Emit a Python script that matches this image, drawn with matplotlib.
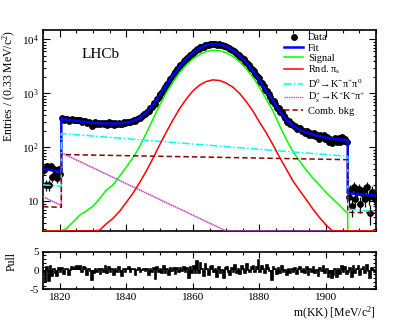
import numpy as np
import matplotlib
matplotlib.use("Agg")
import matplotlib.pyplot as plt
from matplotlib.lines import Line2D
from matplotlib.ticker import FixedLocator, FixedFormatter, MultipleLocator, LogLocator, NullFormatter

plt.rcParams['font.family'] = ['Liberation Serif', 'DejaVu Serif']
plt.rcParams['mathtext.fontset'] = 'custom'
plt.rcParams['mathtext.rm'] = 'Liberation Serif'
plt.rcParams['mathtext.it'] = 'Liberation Serif:italic'
plt.rcParams['mathtext.bf'] = 'Liberation Serif:bold'

# ---- data (0.5 MeV bins from 1815 to 1915) ----
lo_counts = [38, 20, 45, 20, 45, 28, 39, 31, 27, 39, 32]
mid_counts = [347, 320, 336, 329, 305, 322, 331, 319, 327, 327,
              327, 320, 290, 313, 304, 278, 299, 285, 244, 271,
              291, 276, 285, 269, 285, 270, 284, 263, 289, 270,
              279, 259, 282, 268, 284, 273, 265, 289, 278, 296,
              299, 290, 309, 316, 308, 335, 346, 348, 381, 407,
              419, 461, 477, 541, 568, 649, 639, 797, 858, 975,
              1050, 1214, 1318, 1513, 1644, 1870, 2013, 2293, 2470, 2787,
              2983, 3330, 3550, 3930, 4164, 4550, 4708, 5235, 5456, 5914,
              6093, 6659, 6664, 7169, 7313, 7379, 7859, 7907, 7922, 8202,
              8319, 8205, 8276, 8055, 8211, 7957, 7888, 7523, 7522, 7345,
              6967, 6632, 6506, 6136, 5957, 5485, 5246, 4817, 4624, 4250,
              3870, 3706, 3332, 3012, 2817, 2575, 2251, 2076, 1954, 1648,
              1532, 1355, 1176, 1129, 989, 864, 707, 734, 648, 546,
              526, 447, 445, 377, 354, 299, 311, 270, 268, 243,
              249, 216, 225, 226, 197, 203, 181, 197, 166, 185,
              170, 182, 159, 167, 144, 168, 154, 171, 142, 156,
              127, 141, 122, 131, 147, 123, 146, 128, 152, 132,
              145, 123]
hi_counts = [12, 16, 8, 18, 11, 15, 17, 9, 14, 16, 11, 18, 12, 6, 15, 13, 11]

lo_pulls = [-0.3, -3.0, 1.0, -2.9, 1.3, -1.5, 0.4, -0.8, -1.4, 0.6, -0.5]
mid_pulls = [0.7, -0.9, 0.5, 0.3, -1.2, 0.2, 0.9, 0.4, 1.0, 1.2,
             1.3, 1.1, -0.5, 1.0, 0.6, -1.1, 0.5, -0.2, -2.5, -0.8,
             0.5, -0.3, 0.3, -1.0, 0.4, -0.4, 1.2, -0.8, 0.8, -0.3,
             0.3, -1.3, 0.4, -0.4, 0.9, -0.3, -1.5, 0.4, -0.4, 0.4,
             1.0, -0.5, 0.3, 0.3, -1.2, 0.2, 0.6, -0.5, 0.2, 0.4,
             -0.2, 0.4, -1.1, 0.4, -0.5, 0.6, -2.3, 0.8, -0.4, 0.5,
             -0.6, 1.2, -0.6, 0.3, -1.3, 0.7, -0.2, 0.7, -0.9, 0.7,
             -0.5, 0.7, -0.2, 1.0, -0.4, 0.6, -1.9, 0.9, -0.6, 1.1,
             -0.6, 2.6, -0.8, 1.9, 0.5, -1.4, 1.7, 0.3, -1.1, 0.8,
             1.2, -0.5, 0.4, -1.6, 0.9, -0.7, 0.2, -1.9, 0.6, 1.0,
             -0.4, -1.2, 0.7, -0.3, 1.4, -0.6, 0.5, -0.9, 1.1, 0.3,
             -0.8, 1.6, 0.2, -0.5, 0.9, 1.3, -0.4, 0.8, 2.9, -0.3,
             1.1, 0.4, -0.7, 1.5, 0.6, -0.2, -2.6, 0.9, 0.3, -1.0,
             0.7, -0.6, 1.2, -0.4, 0.2, -1.3, 0.5, -0.8, 0.4, -0.3,
             0.6, -0.9, 0.3, 1.0, -0.5, 0.4, -0.7, 0.8, -1.2, 0.5,
             -0.3, 0.9, -0.6, 0.2, -1.4, 0.7, -0.2, 1.3, -0.8, 0.4,
             -1.8, -0.6, -2.0, -1.1, 0.3, -1.6, 0.5, -0.9, 1.2, -0.4,
             0.8, -1.0]
hi_pulls = [-0.4, 0.6, -1.7, 1.2, -0.8, 0.5, 1.1, -1.3, 0.3, 0.9, -0.6, 1.4, -0.2, -1.9, 0.7, 0.2, -0.5]

# ---- fit curves ----
# mass grid: 1815, 1820.5 | 1820.5, 1822 ... 1906, 1906.5 | 1906.5, 1915
grid_mass = [1815, 1820.5, 1820.5] + list(range(1822, 1907, 2)) + [1906.5, 1906.5, 1915]
fit_tot = [40.0, 34.9,
           336, 325.6, 313.3, 302.7, 293.1, 284.8, 279.4, 276.5, 273.9, 277.1,
           287.3, 307, 348, 436, 606, 916, 1416, 2149, 3145, 4351,
           5672, 6883, 7810, 8246, 8088, 7383, 6314, 5047, 3760, 2640,
           1748, 1131, 744, 471, 328, 252, 214, 188, 172, 160.5,
           151.5, 145, 139.8, 135.4, 134.6,
           14.1, 12.7]
sig = [0.15, 0.26,
       2.5, 3.1, 4.1, 5.5, 6.6, 8.1, 11.2, 16, 20, 29,
       43, 64, 103, 182, 331, 598, 1023, 1630, 2430, 3380,
       4375, 5280, 5970, 6290, 6180, 5660, 4840, 3880, 2890, 2006,
       1300, 790, 480, 256, 142, 84, 56, 38, 27, 20,
       14.5, 11, 8.4, 6.3, 6.1,
       0.64, 0.4]
rnd = [0.05, 0.08,
       0.8, 0.9, 1.0, 1.2, 1.5, 2.3, 2.9, 3.8, 4.8, 6.5,
       9.5, 14, 22, 36, 62, 110, 190, 320, 520, 780,
       1110, 1420, 1660, 1780, 1735, 1553, 1307, 1003, 709, 475,
       292, 187, 113, 66, 40, 24, 16, 10.8, 7.2, 5.0,
       3.6, 2.6, 1.9, 1.5, 1.4,
       0.15, 0.05]

line_mass = [1815, 1820.5, 1820.5, 1906.5, 1906.5, 1915]
d0_bkg = [20.1, 18.9, 180, 68, 7.1, 6.5]
comb_bkg = [7.9, 7.7, 73.5, 58.9, 6.2, 6.1]
ds_mass = [1815, 1820.5, 1820.5, 1870, 1906.5, 1906.5, 1915]
ds_bkg = [12.1, 8.3, 79, 2.8, 0.24, 0.025, 0.014]

YMIN, YMAX = 2.8, 15000
centers = np.arange(1815.25, 1915, 0.5)
edges = np.arange(1815, 1915.1, 0.5)
counts = np.array(lo_counts + mid_counts + hi_counts, dtype=float)
pulls = np.array(lo_pulls + mid_pulls + hi_pulls)

fig = plt.figure(figsize=(3.99, 3.29), dpi=100)
ax = fig.add_axes([0.1078, 0.2979, 0.8346, 0.611])
axp = fig.add_axes([0.1078, 0.1207, 0.8346, 0.1143])

# data + fit
ax.errorbar(centers, counts, yerr=np.sqrt(counts), fmt='o', color='black',
            ms=3.9, elinewidth=0.9, capsize=0, zorder=3)
ax.plot(grid_mass, np.maximum(fit_tot, YMIN), color='#0000ff', lw=1.8, zorder=4)
ax.plot(grid_mass, np.maximum(sig, YMIN), color='#00ff00', lw=1.1, zorder=5)
ax.plot(ds_mass, np.maximum(ds_bkg, YMIN), color='#c44cc4', lw=1.1, ls=(0, (1, 0.3)), zorder=5)
ax.plot(grid_mass, np.maximum(rnd, YMIN), color='#ff0000', lw=1.1, zorder=6)
ax.plot(line_mass, np.maximum(d0_bkg, YMIN), color='#00ffff', lw=1.1, ls=(0, (5, 1.5, 1, 1.5)), zorder=5)
ax.plot(line_mass, np.maximum(comb_bkg, YMIN), color='#8b0000', lw=1.1, ls=(0, (3.5, 2)), zorder=5)

ax.set_yscale('log')
ax.set_xlim(1815, 1915)
ax.set_ylim(YMIN, YMAX)
ax.yaxis.set_major_locator(FixedLocator([10, 100, 1000, 10000]))
ax.yaxis.set_major_formatter(FixedFormatter(['10', '$10^{2}$', '$10^{3}$', '$10^{4}$']))
ax.yaxis.set_minor_locator(LogLocator(base=10, subs=np.arange(2, 10)))
ax.yaxis.set_minor_formatter(NullFormatter())
ax.xaxis.set_major_locator(MultipleLocator(20))
ax.xaxis.set_minor_locator(MultipleLocator(5))
ax.tick_params(axis='x', labelbottom=False)
ax.set_ylabel('Entries / (0.33 MeV/c$^{2}$)', fontsize=8.5, loc='top')
ax.yaxis.set_label_coords(-0.075, 1.0)
ax.text(0.117, 0.876, 'LHCb', transform=ax.transAxes, fontsize=11, va='center')

handles = [
    Line2D([], [], ls='none', marker='o', color='black', ms=3.9),
    Line2D([], [], color='#0000ff', lw=1.8),
    Line2D([], [], color='#00ff00', lw=1.1),
    Line2D([], [], color='#ff0000', lw=1.1),
    Line2D([], [], color='#00ffff', lw=1.1, ls=(0, (5, 1.5, 1, 1.5))),
    Line2D([], [], color='#c44cc4', lw=1.0, ls=(0, (1, 0.6))),
    Line2D([], [], color='#8b0000', lw=1.1, ls=(0, (3.5, 2))),
]
labels = ['Data', 'Fit', 'Signal', 'Rnd. π$_{\\rm s}$',
          'D$^{0}$$\\!\\rightarrow\\!$K$^{-}$π$^{+}$π$^{0}$',
          'D$_{\\rm s}^{+}$$\\!\\rightarrow\\!$K$^{+}$K$^{-}$π$^{+}$',
          'Comb. bkg']
ax.legend(handles, labels, loc='upper left', bbox_to_anchor=(0.725, 0.985),
          frameon=False, fontsize=7.5, handlelength=1.75, handletextpad=0.5,
          labelspacing=0.1, borderpad=0, borderaxespad=0)

# pulls: filled bars with a thick step outline
axp.bar(centers, pulls, width=0.5, color='black')
axp.stairs(pulls, edges, color='black', lw=1.2)
axp.set_xlim(1815, 1915)
axp.set_ylim(-5, 5)
axp.yaxis.set_major_locator(FixedLocator([-5, 0, 5]))
axp.yaxis.set_major_formatter(FixedFormatter(['-5', '0', '5']))
axp.yaxis.set_minor_locator(MultipleLocator(1))
axp.xaxis.set_major_locator(MultipleLocator(20))
axp.xaxis.set_minor_locator(MultipleLocator(5))
axp.set_ylabel('Pull', fontsize=8.5, loc='top')
axp.yaxis.set_label_coords(-0.075, 1.0)
axp.set_xlabel('m(KK) [MeV/c$^{2}$]', fontsize=8.5, loc='right')
axp.xaxis.set_label_coords(1.0, -0.42)

for a, big, small in [(ax, 5, 2.5), (axp, 4, 2)]:
    a.tick_params(which='both', direction='in', top=True, right=True, labelsize=8, width=0.8)
    a.tick_params(which='major', length=big, pad=3)
    a.tick_params(which='minor', length=small)
    for s in a.spines.values():
        s.set_linewidth(1.2)

fig.savefig('out.png', dpi=100)
